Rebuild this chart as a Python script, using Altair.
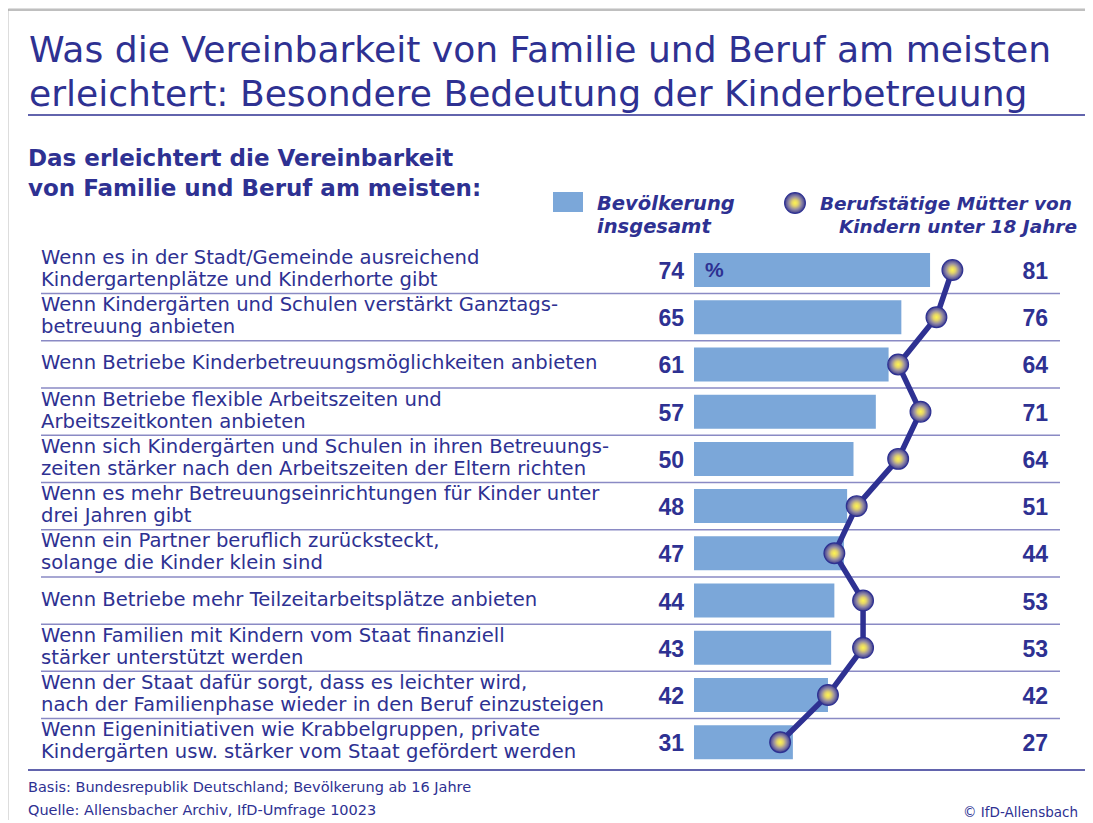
import altair as alt
import pandas as pd

labels = [
    "Wenn es in der Stadt/Gemeinde ausreichend\nKindergartenplätze und Kinderhorte gibt",
    "Wenn Kindergärten und Schulen verstärkt Ganztags-\nbetreuung anbieten",
    "Wenn Betriebe Kinderbetreuungsmöglichkeiten anbieten",
    "Wenn Betriebe flexible Arbeitszeiten und\nArbeitszeitkonten anbieten",
    "Wenn sich Kindergärten und Schulen in ihren Betreuungs-\nzeiten stärker nach den Arbeitszeiten der Eltern richten",
    "Wenn es mehr Betreuungseinrichtungen für Kinder unter\ndrei Jahren gibt",
    "Wenn ein Partner beruflich zurücksteckt,\nsolange die Kinder klein sind",
    "Wenn Betriebe mehr Teilzeitarbeitsplätze anbieten",
    "Wenn Familien mit Kindern vom Staat finanziell\nstärker unterstützt werden",
    "Wenn der Staat dafür sorgt, dass es leichter wird,\nnach der Familienphase wieder in den Beruf einzusteigen",
    "Wenn Eigeninitiativen wie Krabbelgruppen, private\nKindergärten usw. stärker vom Staat gefördert werden",
]
bevoelkerung = [74, 65, 61, 57, 50, 48, 47, 44, 43, 42, 31]
muetter = [81, 76, 64, 71, 64, 51, 44, 53, 53, 42, 27]

title_lines = [
    "Was die Vereinbarkeit von Familie und Beruf am meisten",
    "erleichtert: Besondere Bedeutung der Kinderbetreuung",
]
subtitle_lines = ["Das erleichtert die Vereinbarkeit", "von Familie und Beruf am meisten:"]
legend_bar = ["Bevölkerung", "insgesamt"]
legend_dot = ["Berufstätige Mütter von", "Kindern unter 18 Jahre"]
footer_lines = [
    "Basis: Bundesrepublik Deutschland; Bevölkerung ab 16 Jahre",
    "Quelle: Allensbacher Archiv, IfD-Umfrage 10023",
]
copyright_text = "© IfD-Allensbach"

NAVY = "#2e3192"
BAR = "#7ba7d9"
SEP = "#8a8ac4"
FONT = "DejaVu Sans"
BOLD = "Liberation Sans"

df = pd.DataFrame({
    "idx": list(range(len(labels))),
    "label": labels,
    "bev": bevoelkerung,
    "mut": muetter,
})
df["sep"] = df["idx"] + 0.5

W, H = 1077, 812
ROW0, ROW10 = 262, 734.2
LH = 22
unit = (ROW10 - ROW0) / 10.0
xs = alt.Scale(domain=[0, 100], range=[686, 1005], padding=0)
ys = alt.Scale(domain=[0, 10], range=[ROW0, ROW10], padding=0)

X = lambda f: alt.X(f, type="quantitative", scale=xs, axis=None)
Y = lambda f: alt.Y(f, type="quantitative", scale=ys, axis=None)

base = alt.Chart(df)

dot_fill = {
    "gradient": "radial",
    "x1": 0.5, "y1": 0.5, "r1": 0.0,
    "x2": 0.5, "y2": 0.5, "r2": 0.5,
    "stops": [
        {"offset": 0.0, "color": "#fff64f"},
        {"offset": 0.3, "color": "#e2d26c"},
        {"offset": 0.65, "color": "#8e86a6"},
        {"offset": 1.0, "color": "#3d3c8c"},
    ],
}

seps = base.transform_filter("datum.idx < 10").mark_rule(color=SEP, strokeWidth=1.5).encode(
    y=Y("sep"), x=alt.value(33), x2=alt.value(1052)
)
bars = base.mark_bar(color=BAR, orient="horizontal", size=34).encode(
    x=X("bev"), x2=alt.datum(0), y=Y("idx")
)
line = base.mark_line(color=NAVY, strokeWidth=5.5).encode(
    x=X("mut"), y=Y("idx"), order="idx:Q"
)
dots = base.mark_point(filled=True, fill=dot_fill, size=430, stroke=NAVY, strokeWidth=1.2, opacity=1).encode(
    x=X("mut"), y=Y("idx")
)
half = 0.5 * LH / unit
lab = base.transform_calculate(
    ly=f"indexof(datum.label, '\\n') >= 0 ? datum.idx - {half:.4f} : datum.idx"
).mark_text(align="left", baseline="middle", font=FONT, fontSize=19.6, lineHeight=LH,
            lineBreak="\n", color=NAVY, dy=-1).encode(
    x=alt.value(33), y=Y("ly"), text="label:N"
)
left_vals = base.mark_text(align="right", baseline="middle", font=BOLD, fontWeight="bold",
                           fontSize=23, color=NAVY, dy=2).encode(
    x=alt.value(676), y=Y("idx"), text="bev:Q"
)
right_vals = base.mark_text(align="right", baseline="middle", font=BOLD, fontWeight="bold",
                            fontSize=23, color=NAVY, dy=2).encode(
    x=alt.value(1040), y=Y("idx"), text="mut:Q"
)
pct = base.transform_filter("datum.idx == 0").mark_text(
    align="left", baseline="middle", font=BOLD, fontWeight="bold", fontSize=21, color=NAVY, dy=1
).encode(x=alt.value(697), y=Y("idx"), text=alt.value("%"))

one = pd.DataFrame({"a": [0]})


def txt(text, x, y, size, weight="normal", style="normal", font=FONT, align="left", color=NAVY):
    return alt.Chart(one).mark_text(
        align=align, baseline="alphabetic", font=font, fontSize=size, fontWeight=weight,
        fontStyle=style, color=color
    ).encode(x=alt.value(x), y=alt.value(y), text=alt.value(text))


layers = [
    # frame
    alt.Chart(one).mark_rule(color="#aaaaaa", strokeWidth=1.5).encode(
        x=alt.value(-2), x2=alt.value(W), y=alt.value(2)),
    alt.Chart(one).mark_rule(color="#aaaaaa", strokeWidth=1.5).encode(
        x=alt.value(-2), y=alt.value(2), y2=alt.value(H)),
    # title underline and bottom rule
    alt.Chart(one).mark_rule(color=NAVY, strokeWidth=1.5).encode(
        x=alt.value(20), x2=alt.value(W), y=alt.value(107)),
    alt.Chart(one).mark_rule(color=NAVY, strokeWidth=1.5).encode(
        x=alt.value(20), x2=alt.value(W), y=alt.value(762)),
    txt(title_lines[0], 21, 54, 36.1),
    txt(title_lines[1], 21, 98, 36.1),
    txt(subtitle_lines[0], 20, 158, 23, weight="bold"),
    txt(subtitle_lines[1], 20, 188, 23, weight="bold"),
    # legend
    alt.Chart(one).mark_rect(color=BAR).encode(
        x=alt.value(545), x2=alt.value(575), y=alt.value(184), y2=alt.value(204)),
    txt(legend_bar[0], 589, 202, 19.5, weight="bold", style="italic"),
    txt(legend_bar[1], 589, 225, 19.5, weight="bold", style="italic"),
    alt.Chart(one).mark_point(filled=True, fill=dot_fill, size=430, stroke=NAVY, strokeWidth=1.2,
                              opacity=1).encode(x=alt.value(787), y=alt.value(195)),
    txt(legend_dot[0], 1064, 202, 18.5, weight="bold", style="italic", align="right"),
    txt(legend_dot[1], 1069, 225, 18.5, weight="bold", style="italic", align="right"),
    # rows
    seps, bars, line, dots, lab, left_vals, right_vals, pct,
    # footer
    txt(footer_lines[0], 20, 784, 14.5),
    txt(footer_lines[1], 20, 807, 14.5),
    txt(copyright_text, 1070, 809, 13.5, align="right"),
]

chart = alt.layer(*layers).properties(
    width=W, height=H, padding=0, autosize=alt.AutoSizeParams(type="none")
).configure_view(stroke=None).configure(background="white")

chart.save("out.html", embed_options={"renderer": "svg", "actions": False})
